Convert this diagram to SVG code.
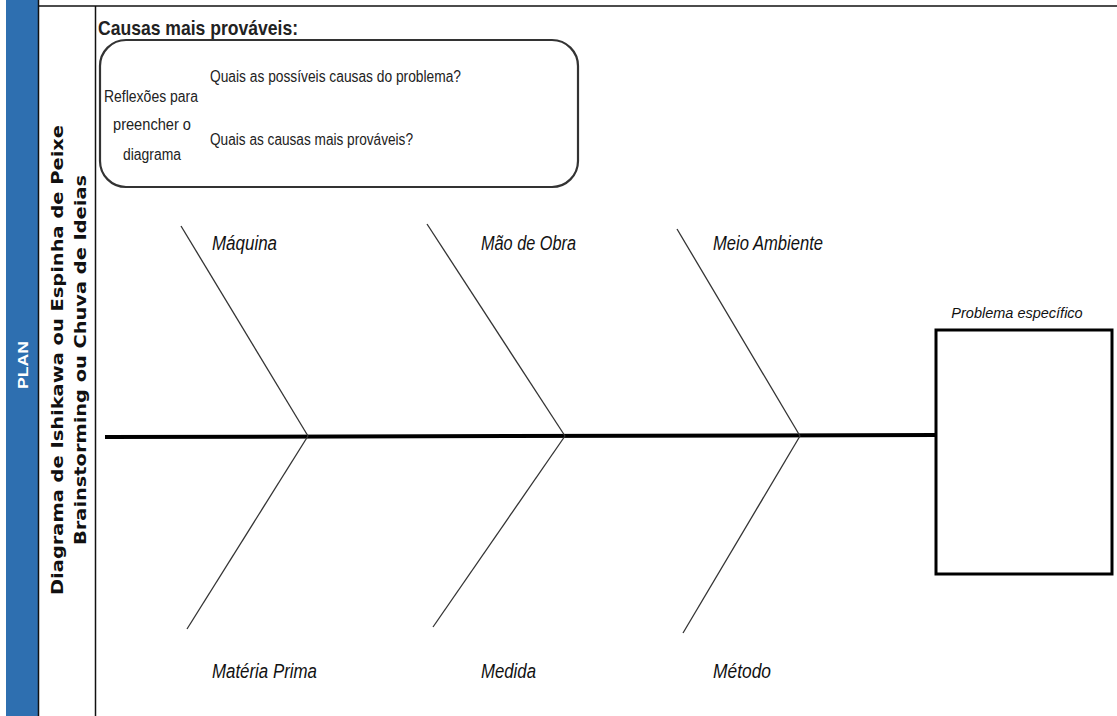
<svg xmlns="http://www.w3.org/2000/svg" width="1117" height="716" viewBox="0 0 1117 716">
<style>
.cal{font-family:"Liberation Sans Narrow","Liberation Sans",Arial,sans-serif;fill:#222}
.lab{font-family:"Liberation Sans Narrow","Liberation Sans",Arial,sans-serif;font-style:italic;font-size:20px;fill:#111}
.bone{stroke:#333;stroke-width:1.3;fill:none}
.side{font-family:"DejaVu Sans","Liberation Sans",sans-serif;font-weight:bold;fill:#111}
</style>
<rect width="1117" height="716" fill="#fff"/>
<g id="sidebar">
<rect x="6" y="0" width="32" height="716" fill="#2e6fb0"/>
<line x1="38.5" y1="0" x2="38.5" y2="716" stroke="#111" stroke-width="1.5"/>
<line x1="95.5" y1="6" x2="95.5" y2="716" stroke="#111" stroke-width="1.5"/>
<line x1="38" y1="6" x2="1117" y2="6" stroke="#111" stroke-width="1.5"/>
<text transform="translate(28,365) rotate(-90)" text-anchor="middle" font-family="'Liberation Sans',Arial,sans-serif" font-weight="bold" font-size="15" fill="#fff" textLength="48" lengthAdjust="spacingAndGlyphs">PLAN</text>
<text class="side" transform="translate(63,360) rotate(-90)" text-anchor="middle" font-size="15" textLength="470" lengthAdjust="spacingAndGlyphs">Diagrama de Ishikawa ou Espinha de Peixe</text>
<text class="side" transform="translate(86,360) rotate(-90)" text-anchor="middle" font-size="15" textLength="370" lengthAdjust="spacingAndGlyphs">Brainstorming ou Chuva de Ideias</text>
</g>
<g id="title">
<text class="cal" x="98" y="35" font-size="21" font-weight="bold" fill="#000" textLength="200" lengthAdjust="spacingAndGlyphs">Causas mais prováveis:</text>
</g>
<g id="reflexoes">
<rect x="100" y="40" width="478" height="147" rx="26" ry="26" fill="#fff" stroke="#333" stroke-width="2.2"/>
<text class="cal" font-size="16" text-anchor="middle"><tspan x="151" y="102" textLength="94" lengthAdjust="spacingAndGlyphs">Reflexões para</tspan><tspan x="152" y="130" textLength="78" lengthAdjust="spacingAndGlyphs">preencher o</tspan><tspan x="152" y="160" textLength="58" lengthAdjust="spacingAndGlyphs">diagrama</tspan></text>
<text class="cal" x="210" y="82" font-size="16" textLength="251" lengthAdjust="spacingAndGlyphs">Quais as possíveis causas do problema?</text>
<text class="cal" x="210" y="145" font-size="16" textLength="203" lengthAdjust="spacingAndGlyphs">Quais as causas mais prováveis?</text>
</g>
<g id="connectors">
<line x1="105" y1="437" x2="936" y2="435" stroke="#000" stroke-width="4"/>
<line class="bone" x1="181" y1="226" x2="308" y2="436"/>
<line class="bone" x1="427" y1="224" x2="565" y2="436"/>
<line class="bone" x1="677" y1="229" x2="800" y2="436"/>
<line class="bone" x1="308" y1="436" x2="187" y2="629"/>
<line class="bone" x1="565" y1="436" x2="433" y2="627"/>
<line class="bone" x1="800" y1="436" x2="683" y2="633"/>
</g>
<g id="maquina"><text class="lab" x="212" y="250" textLength="65" lengthAdjust="spacingAndGlyphs">Máquina</text></g>
<g id="mao-de-obra"><text class="lab" x="481" y="250" textLength="95" lengthAdjust="spacingAndGlyphs">Mão de Obra</text></g>
<g id="meio-ambiente"><text class="lab" x="713" y="250" textLength="110" lengthAdjust="spacingAndGlyphs">Meio Ambiente</text></g>
<g id="materia-prima"><text class="lab" x="212" y="678" textLength="105" lengthAdjust="spacingAndGlyphs">Matéria Prima</text></g>
<g id="medida"><text class="lab" x="481" y="678" textLength="55" lengthAdjust="spacingAndGlyphs">Medida</text></g>
<g id="metodo"><text class="lab" x="713" y="678" textLength="58" lengthAdjust="spacingAndGlyphs">Método</text></g>
<g id="problema">
<text class="lab" x="1017" y="318" style="font-size:14.5px" text-anchor="middle">Problema específico</text>
<rect x="936" y="330" width="176" height="244" fill="#fff" stroke="#000" stroke-width="3"/>
</g>
</svg>
